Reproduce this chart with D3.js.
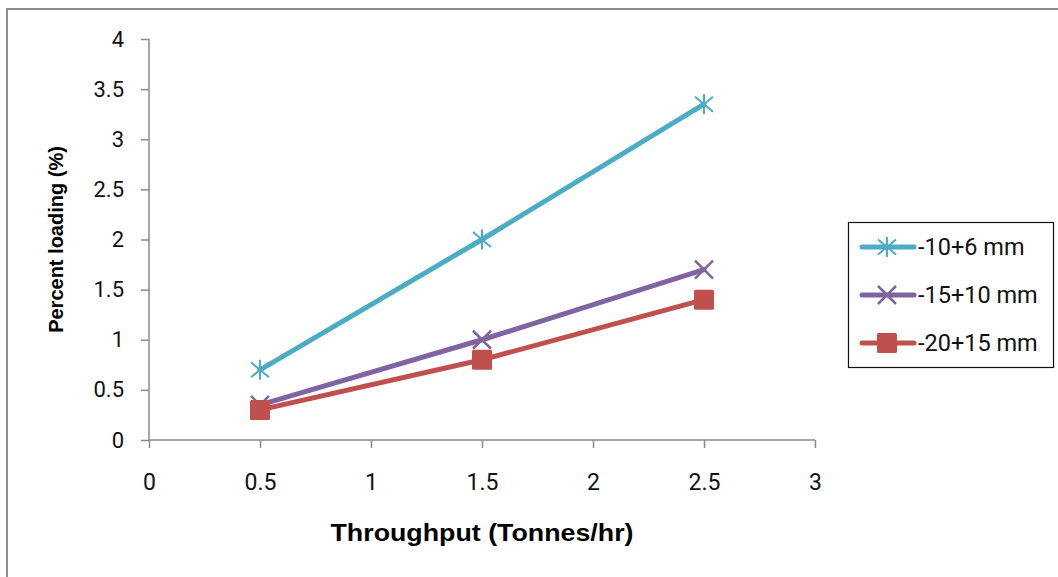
<!DOCTYPE html>
<html>
<head>
<meta charset="utf-8">
<script src="https://cdn.jsdelivr.net/npm/d3@7"></script>
<style>
  html, body { margin: 0; padding: 0; background: #fff; }
  svg { display: block; }
</style>
</head>
<body>
<svg id="chart" width="1058" height="577"></svg>
<script>
// Throughput values (Tonnes/hr)
const throughput = [0.5, 1.5, 2.5];
// Percent loading per size fraction
const seriesNames = ["-10+6 mm", "-15+10 mm", "-20+15 mm"];
const loading10to6 = [0.7, 2.0, 3.35];
const loading15to10 = [0.35, 1.0, 1.7];
const loading20to15 = [0.3, 0.8, 1.4];
const xTicks = [0, 0.5, 1, 1.5, 2, 2.5, 3];
const yTicks = [0, 0.5, 1, 1.5, 2, 2.5, 3, 3.5, 4];

const series = [
  { name: seriesNames[0], values: loading10to6, color: "#4BACC6", marker: "star" },
  { name: seriesNames[1], values: loading15to10, color: "#8064A2", marker: "x" },
  { name: seriesNames[2], values: loading20to15, color: "#C0504D", marker: "square" }
];

const svg = d3.select("#chart");

// Outer chart frame
svg.append("rect")
  .attr("x", 7).attr("y", 9)
  .attr("width", 1070).attr("height", 600)
  .attr("fill", "none").attr("stroke", "#8c8c8c").attr("stroke-width", 2);

const x = d3.scaleLinear().domain([0, 3]).range([149, 815]);
const y = d3.scaleLinear().domain([0, 4]).range([440, 39]);

const axisColor = "#8a8a8a";
const tickFont = "Roboto, 'Noto Sans', sans-serif";

// Y axis
const yAxis = svg.append("g")
  .attr("transform", `translate(${x(0)},0)`)
  .call(d3.axisLeft(y).tickValues(yTicks).tickSize(8).tickPadding(17)
    .tickFormat(d3.format("")));
yAxis.select(".domain").attr("stroke", axisColor).attr("stroke-width", 1.5)
  .attr("d", `M0,${y(0)}V${y(4)}`);
yAxis.selectAll(".tick line").attr("stroke", axisColor).attr("stroke-width", 1.5);
yAxis.selectAll(".tick text")
  .attr("fill", "#111").style("font-family", tickFont)
  .style("font-size", "22px");

// X axis
const xAxis = svg.append("g")
  .attr("transform", `translate(0,${y(0)})`)
  .call(d3.axisBottom(x).tickValues(xTicks).tickSize(8).tickPadding(0)
    .tickFormat(d3.format("")));
xAxis.select(".domain").attr("stroke", axisColor).attr("stroke-width", 1.5)
  .attr("d", `M${x(0)},0H${x(3)}`);
xAxis.selectAll(".tick line").attr("stroke", axisColor).attr("stroke-width", 1.5);
xAxis.selectAll(".tick text")
  .attr("y", 42).attr("dy", "0.35em")
  .attr("fill", "#111").style("font-family", tickFont)
  .style("font-size", "23px");

// Axis titles
svg.append("text")
  .attr("transform", `translate(56,${(y(0) + y(4)) / 2}) rotate(-90)`)
  .attr("text-anchor", "middle").attr("dy", "0.35em")
  .style("font-family", "'Liberation Sans', Arial, sans-serif")
  .style("font-weight", "bold").style("font-size", "20px")
  .text("Percent loading (%)");

svg.append("text")
  .attr("x", x(1.5)).attr("y", 533)
  .attr("text-anchor", "middle").attr("dy", "0.35em")
  .attr("textLength", 303).attr("lengthAdjust", "spacingAndGlyphs")
  .style("font-family", "'Liberation Sans', Arial, sans-serif")
  .style("font-weight", "bold").style("font-size", "23px")
  .text("Throughput (Tonnes/hr)");

function drawMarker(g, type, color) {
  if (type === "star") {
    const r = 10;
    g.append("path")
      .attr("d", `M0,${-r}V${r}M${-r * 0.9},${-r * 0.75}L${r * 0.9},${r * 0.75}M${-r * 0.9},${r * 0.75}L${r * 0.9},${-r * 0.75}`)
      .attr("stroke", color).attr("stroke-width", 2).attr("fill", "none");
  } else if (type === "x") {
    const r = 9;
    g.append("path")
      .attr("d", `M${-r},${-r}L${r},${r}M${-r},${r}L${r},${-r}`)
      .attr("stroke", color).attr("stroke-width", 2.5).attr("fill", "none");
  } else {
    const s = 20;
    g.append("rect")
      .attr("x", -s / 2).attr("y", -s / 2).attr("width", s).attr("height", s)
      .attr("rx", 1.5)
      .attr("fill", color);
  }
}

const line = d3.line().x(d => x(d[0])).y(d => y(d[1]));

series.forEach(s => {
  const pts = throughput.map((t, i) => [t, s.values[i]]);
  svg.append("path")
    .datum(pts)
    .attr("d", line)
    .attr("fill", "none").attr("stroke", s.color)
    .attr("stroke-width", 5).attr("stroke-linecap", "round").attr("stroke-linejoin", "round");
  pts.forEach(p => {
    const g = svg.append("g").attr("transform", `translate(${x(p[0])},${y(p[1])})`);
    drawMarker(g, s.marker, s.color);
  });
});

// Legend
const legend = svg.append("g");
legend.append("rect")
  .attr("x", 848.5).attr("y", 222.5).attr("width", 205).attr("height", 145)
  .attr("fill", "#fff").attr("stroke", "#111").attr("stroke-width", 1.2);

series.forEach((s, i) => {
  const ly = 247 + i * 48;
  legend.append("line")
    .attr("x1", 862).attr("x2", 914).attr("y1", ly).attr("y2", ly)
    .attr("stroke", s.color).attr("stroke-width", 5).attr("stroke-linecap", "round");
  const g = legend.append("g").attr("transform", `translate(887,${ly})`);
  drawMarker(g, s.marker, s.color);
  legend.append("text")
    .attr("x", 918).attr("y", ly).attr("dy", "0.35em")
    .style("font-family", tickFont)
    .style("font-size", "23.5px").attr("fill", "#111")
    .text(s.name);
});
</script>
</body>
</html>
